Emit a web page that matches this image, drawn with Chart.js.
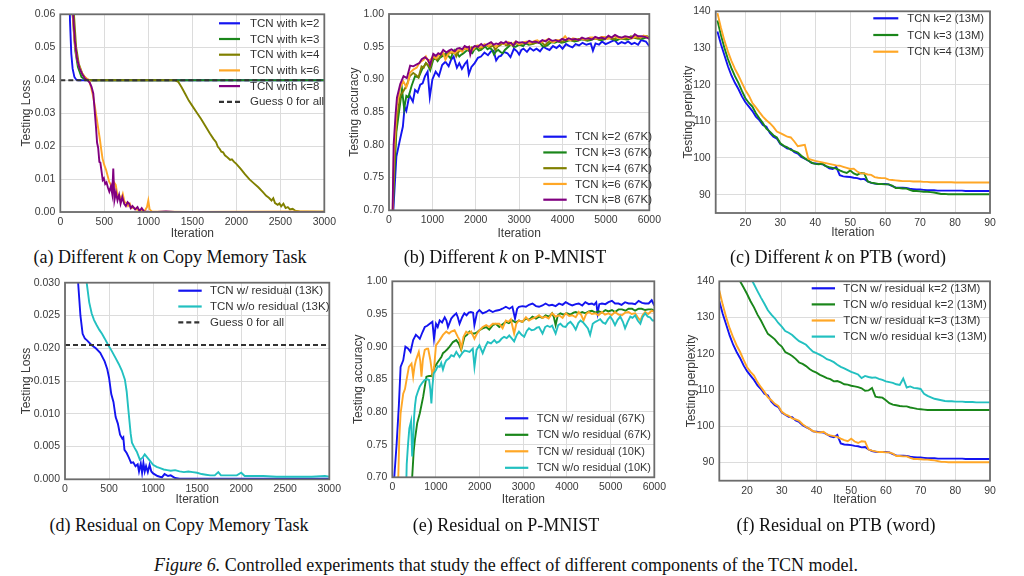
<!DOCTYPE html>
<html><head><meta charset="utf-8">
<script src="https://cdn.jsdelivr.net/npm/chart.js@4.4.1/dist/chart.umd.min.js"></script>
<style>
html,body{margin:0;padding:0;background:#fff;width:1024px;height:576px;overflow:hidden;position:relative;}
canvas{position:absolute;}
.cap{position:absolute;text-align:center;font-family:"Liberation Serif","Times New Roman",serif;font-size:18px;color:#111;white-space:nowrap;line-height:20px;}
</style></head><body>
<canvas id="ca" style="left:0px;top:0px" width="340" height="245"></canvas>
<canvas id="cb" style="left:340px;top:0px" width="325" height="245"></canvas>
<canvas id="cc" style="left:670px;top:0px" width="345" height="245"></canvas>
<canvas id="cd" style="left:0px;top:270px" width="345" height="245"></canvas>
<canvas id="ce" style="left:340px;top:270px" width="330" height="245"></canvas>
<canvas id="cf" style="left:670px;top:270px" width="345" height="245"></canvas>
<div class="cap" style="left:0px;width:340px;top:247px">(a) Different <i>k</i> on Copy Memory Task</div>
<div class="cap" style="left:355px;width:300px;top:247px">(b) Different <i>k</i> on P-MNIST</div>
<div class="cap" style="left:688px;width:300px;top:247px">(c) Different <i>k</i> on PTB (word)</div>
<div class="cap" style="left:9px;width:340px;top:515px">(d) Residual on Copy Memory Task</div>
<div class="cap" style="left:356px;width:300px;top:515px">(e) Residual on P-MNIST</div>
<div class="cap" style="left:686px;width:300px;top:515px">(f) Residual on PTB (word)</div>
<div class="cap" style="left:0px;width:1012px;top:555px"><i>Figure 6.</i> Controlled experiments that study the effect of different components of the TCN model.</div>
<script>
// ---------------- DATA ----------------
// (a) Copy memory, different k  [iteration, testing loss]
const aK2 = [[0,0.3],[90,0.09],[110,0.058],[125,0.048],[140,0.0435],[160,0.041],[180,0.0402],[200,0.04],[3000,0.04]];
const aK3 = [[0,0.3],[110,0.09],[140,0.06],[170,0.049],[200,0.044],[240,0.041],[280,0.0402],[320,0.04],[3000,0.04]];
const aK4 = [[0,0.3],[120,0.09],[150,0.062],[180,0.05],[210,0.045],[250,0.042],[300,0.0402],[350,0.04],[1300,0.04],[1340,0.0395],[1380,0.0378],[1420,0.0358],[1460,0.0338],[1500,0.0322],[1550,0.0302],[1600,0.0282],[1650,0.026],[1700,0.0238],[1740,0.0222],[1770,0.0212],[1790,0.0198],[1810,0.0192],[1830,0.0183],[1850,0.0181],[1870,0.0172],[1890,0.0168],[1910,0.0163],[1930,0.0158],[1950,0.016],[1975,0.0152],[2000,0.0146],[2050,0.0131],[2100,0.0114],[2150,0.0099],[2200,0.0087],[2250,0.0075],[2300,0.0061],[2340,0.0049],[2370,0.0043],[2400,0.0035],[2420,0.0042],[2440,0.0027],[2470,0.0022],[2490,0.0026],[2510,0.0017],[2535,0.0025],[2560,0.0012],[2585,0.0015],[2610,0.0008],[2640,0.001],[2670,0.0004],[2720,0.0002],[2800,0.0001],[3000,0.0001]];
const aK6 = [[0,0.3],[120,0.08],[140,0.06],[160,0.052],[185,0.047],[210,0.0445],[240,0.0425],[270,0.0412],[300,0.0405],[330,0.0398],[350,0.0378],[370,0.0355],[390,0.0325],[410,0.029],[430,0.0255],[450,0.022],[465,0.019],[480,0.0162],[500,0.0142],[520,0.0128],[540,0.0108],[555,0.0092],[570,0.0085],[590,0.007],[610,0.009],[630,0.0082],[650,0.005],[670,0.0052],[690,0.0038],[710,0.0055],[730,0.003],[750,0.0028],[770,0.0018],[790,0.0025],[810,0.0012],[830,0.0015],[860,0.0008],[890,0.0006],[920,0.0004],[960,0.0004],[985,0.0015],[1000,0.0035],[1015,0.0008],[1040,0.0002],[1100,0.0001],[1200,0.0001],[1500,0],[2000,0.0001],[2800,0.0002],[3000,0.0001]];
const aK8 = [[0,0.3],[125,0.08],[145,0.06],[165,0.052],[190,0.0465],[220,0.0435],[250,0.0418],[280,0.0405],[310,0.04],[335,0.0392],[355,0.038],[375,0.036],[390,0.031],[405,0.026],[418,0.021],[430,0.0195],[444,0.0152],[455,0.015],[468,0.0125],[482,0.0097],[495,0.0102],[510,0.0085],[525,0.009],[540,0.0075],[557,0.0062],[575,0.0078],[590,0.0055],[602,0.0132],[615,0.0036],[632,0.006],[650,0.0035],[668,0.0052],[685,0.0025],[705,0.0045],[726,0.0025],[745,0.0018],[765,0.003],[783,0.0025],[800,0.0012],[820,0.0018],[850,0.0008],[877,0.0015],[900,0.0003],[925,0.0012],[950,0.0002],[1000,0.0001],[1100,0],[1200,0.0002],[1300,0],[3000,0]];
const aGuess = [[0,0.04],[3000,0.04]];
const aXTicks = [0,500,1000,1500,2000,2500,3000];
const aYTicks = [0,0.01,0.02,0.03,0.04,0.05,0.06];

// (b) P-MNIST, different k  [iteration, testing accuracy]
const bK2 = [[60,0.62],[100,0.70],[170,0.782],[250,0.807],[320,0.828],[360,0.858],[400,0.852],[470,0.876],[550,0.866],[600,0.884],[660,0.88],[720,0.892],[775,0.894],[830,0.905],[890,0.912],[940,0.873],[1000,0.90],[1075,0.912],[1150,0.905],[1225,0.922],[1300,0.927],[1375,0.92],[1430,0.93],[1490,0.935],[1565,0.918],[1620,0.925],[1680,0.916],[1750,0.924],[1800,0.928],[1840,0.908],[1900,0.919],[1975,0.925],[2050,0.933],[2120,0.935],[2200,0.941],[2280,0.937],[2350,0.943],[2410,0.944],[2470,0.929],[2530,0.935],[2580,0.936],[2650,0.942],[2730,0.94],[2800,0.934],[2880,0.947],[2950,0.943],[3000,0.938],[3050,0.945],[3100,0.947],[3180,0.942],[3250,0.948],[3330,0.944],[3400,0.947],[3480,0.943],[3560,0.95],[3630,0.947],[3700,0.945],[3780,0.951],[3860,0.948],[3930,0.952],[4000,0.947],[4080,0.954],[4160,0.951],[4230,0.949],[4300,0.954],[4380,0.952],[4460,0.956],[4550,0.953],[4650,0.955],[4700,0.944],[4760,0.955],[4840,0.953],[4910,0.958],[4990,0.954],[5060,0.956],[5130,0.958],[5200,0.96],[5280,0.954],[5360,0.957],[5440,0.955],[5510,0.958],[5590,0.954],[5660,0.956],[5740,0.953],[5810,0.96],[5920,0.958],[6000,0.951]];
const bK3 = [[60,0.6],[100,0.72],[170,0.82],[250,0.86],[300,0.885],[350,0.855],[400,0.875],[450,0.873],[520,0.89],[600,0.905],[680,0.903],[760,0.915],[850,0.925],[900,0.921],[950,0.914],[1020,0.93],[1070,0.932],[1120,0.928],[1170,0.933],[1220,0.935],[1270,0.937],[1320,0.94],[1370,0.936],[1420,0.932],[1470,0.94],[1520,0.945],[1570,0.94],[1620,0.935],[1670,0.938],[1720,0.94],[1770,0.943],[1820,0.945],[1870,0.942],[1920,0.94],[1970,0.946],[2020,0.948],[2070,0.944],[2120,0.945],[2170,0.948],[2220,0.95],[2270,0.946],[2320,0.948],[2370,0.946],[2420,0.938],[2470,0.943],[2520,0.945],[2570,0.942],[2620,0.94],[2670,0.945],[2720,0.948],[2770,0.951],[2820,0.955],[2870,0.95],[2920,0.95],[2970,0.952],[3020,0.953],[3090,0.951],[3150,0.955],[3220,0.953],[3300,0.954],[3370,0.956],[3450,0.957],[3500,0.954],[3550,0.95],[3600,0.951],[3650,0.952],[3700,0.955],[3750,0.957],[3820,0.956],[3900,0.958],[3970,0.956],[4050,0.957],[4120,0.959],[4200,0.96],[4270,0.958],[4350,0.959],[4420,0.961],[4500,0.961],[4570,0.959],[4650,0.96],[4720,0.962],[4800,0.962],[4870,0.96],[4950,0.961],[5020,0.963],[5100,0.963],[5170,0.961],[5250,0.96],[5320,0.962],[5400,0.962],[5470,0.961],[5550,0.962],[5620,0.964],[5700,0.963],[5770,0.962],[5850,0.962],[5920,0.964],[6000,0.965]];
const bK4 = [[60,0.6],[110,0.76],[180,0.84],[260,0.875],[330,0.882],[400,0.89],[480,0.905],[560,0.91],[620,0.907],[680,0.903],[750,0.92],[800,0.918],[850,0.925],[900,0.922],[950,0.918],[1000,0.93],[1050,0.935],[1100,0.93],[1150,0.932],[1200,0.937],[1250,0.94],[1300,0.936],[1350,0.938],[1400,0.942],[1450,0.94],[1500,0.943],[1550,0.935],[1600,0.942],[1650,0.945],[1700,0.944],[1750,0.948],[1800,0.946],[1850,0.945],[1900,0.949],[1950,0.948],[2000,0.95],[2050,0.95],[2100,0.947],[2150,0.948],[2200,0.952],[2250,0.952],[2300,0.95],[2350,0.95],[2400,0.952],[2450,0.945],[2500,0.95],[2550,0.952],[2600,0.954],[2650,0.955],[2700,0.952],[2750,0.953],[2800,0.955],[2850,0.952],[2900,0.954],[2950,0.955],[3000,0.953],[3100,0.955],[3200,0.957],[3275,0.954],[3350,0.955],[3425,0.957],[3500,0.958],[3560,0.954],[3600,0.952],[3650,0.956],[3700,0.958],[3775,0.957],[3850,0.96],[3925,0.958],[4000,0.958],[4075,0.96],[4150,0.961],[4225,0.959],[4300,0.96],[4375,0.962],[4450,0.962],[4525,0.96],[4600,0.961],[4675,0.963],[4750,0.963],[4825,0.961],[4900,0.962],[4975,0.964],[5050,0.964],[5125,0.962],[5200,0.962],[5275,0.965],[5350,0.964],[5425,0.962],[5500,0.963],[5575,0.966],[5650,0.965],[5725,0.963],[5800,0.964],[5875,0.966],[5950,0.966],[6000,0.962]];
const bK6 = [[60,0.62],[110,0.78],[180,0.86],[260,0.888],[330,0.897],[400,0.888],[440,0.895],[480,0.91],[560,0.915],[640,0.918],[700,0.925],[750,0.928],[800,0.93],[850,0.935],[900,0.928],[950,0.93],[1020,0.935],[1080,0.932],[1130,0.936],[1190,0.94],[1250,0.94],[1300,0.93],[1360,0.938],[1440,0.942],[1520,0.94],[1580,0.944],[1630,0.945],[1690,0.942],[1740,0.948],[1800,0.946],[1850,0.95],[1900,0.944],[1950,0.946],[2000,0.951],[2050,0.952],[2100,0.949],[2150,0.95],[2200,0.954],[2250,0.953],[2300,0.951],[2360,0.955],[2420,0.953],[2470,0.95],[2530,0.954],[2580,0.956],[2640,0.954],[2700,0.955],[2760,0.957],[2820,0.953],[2880,0.956],[2930,0.958],[2990,0.954],[3050,0.955],[3110,0.957],[3180,0.958],[3240,0.955],[3300,0.957],[3360,0.959],[3420,0.96],[3480,0.957],[3550,0.958],[3620,0.96],[3680,0.962],[3740,0.958],[3800,0.957],[3860,0.96],[3930,0.96],[4000,0.962],[4060,0.966],[4120,0.961],[4180,0.96],[4240,0.963],[4300,0.962],[4370,0.96],[4430,0.963],[4500,0.961],[4560,0.962],[4630,0.964],[4700,0.964],[4760,0.962],[4830,0.963],[4900,0.965],[4960,0.965],[5030,0.962],[5090,0.963],[5160,0.965],[5220,0.966],[5290,0.963],[5350,0.962],[5420,0.964],[5480,0.965],[5550,0.963],[5610,0.963],[5680,0.965],[5740,0.966],[5800,0.964],[5870,0.967],[5940,0.965],[6000,0.963]];
const bK8 = [[60,0.6],[107,0.8],[150,0.845],[183,0.872],[259,0.893],[335,0.905],[411,0.902],[487,0.921],[560,0.92],[640,0.923],[700,0.925],[754,0.931],[830,0.934],[900,0.93],[944,0.922],[1020,0.939],[1080,0.936],[1135,0.94],[1190,0.938],[1249,0.945],[1325,0.941],[1380,0.944],[1440,0.946],[1516,0.943],[1570,0.947],[1630,0.948],[1690,0.946],[1744,0.951],[1800,0.949],[1843,0.95],[1874,0.938],[1920,0.948],[1973,0.951],[2050,0.95],[2125,0.954],[2180,0.951],[2239,0.953],[2300,0.955],[2353,0.957],[2410,0.953],[2468,0.955],[2525,0.954],[2582,0.957],[2640,0.955],[2696,0.958],[2750,0.955],[2810,0.956],[2870,0.952],[2925,0.958],[3000,0.956],[3077,0.957],[3150,0.955],[3230,0.959],[3300,0.957],[3382,0.958],[3450,0.956],[3534,0.96],[3610,0.958],[3686,0.962],[3760,0.959],[3838,0.96],[3910,0.958],[3991,0.962],[4070,0.96],[4143,0.963],[4220,0.961],[4295,0.962],[4370,0.96],[4448,0.964],[4520,0.962],[4600,0.963],[4680,0.961],[4752,0.965],[4830,0.963],[4905,0.964],[4980,0.962],[5057,0.967],[5130,0.964],[5209,0.968],[5290,0.965],[5362,0.964],[5440,0.966],[5514,0.965],[5590,0.963],[5666,0.969],[5740,0.966],[5819,0.966],[5900,0.965],[5971,0.963],[6000,0.962]];
const bXTicks = [0,1000,2000,3000,4000,5000,6000];
const bYTicks = [0.70,0.75,0.80,0.85,0.90,0.95,1.00];

// (c) PTB word, different k  (epoch -> testing perplexity)
const cEpochs = [12,13,14,15,16,17,18,19,20,
 21,22,23,24,25,26,27,28,29,30,
 31,32,33,34,35,36,37,38,39,40,
 41,42,43,44,45,46,47,48,49,50,
 51,52,53,54,55,56,57,58,59,60,
 61,62,63,64,65,66,67,68,69,70,
 71,72,73,74,75,76,77,78,79,80,
 81,82,83,84,85,86,87,88,89,90];
const cK2 = [134.5,131,128,125,122.5,120.5,118.8,116.8,115.2,
 114,112.8,111.3,110.3,109,108.5,106.8,105.8,105.3,103.8,
 103.2,102.6,102.5,101.6,101.2,100.3,99.8,99.3,98.6,98.5,
 98.4,98.3,97.8,97.2,97.0,97.6,95.3,95.0,94.9,94.8,
 94.6,94.5,94.2,94.3,93.6,93.2,93.0,92.9,92.9,92.9,
 92.8,92.3,92.0,91.9,91.9,91.8,91.6,91.5,91.4,91.4,
 91.3,91.2,91.2,91.2,91.1,91.1,91.1,91.1,91.1,91.1,
 91.1,91.1,91.0,91.0,91.0,91.0,91.0,91.0,91.0,91.0];
const cK3 = [137.5,133.5,130,127,124.5,122.3,120.5,118.3,116.3,
 115,114,112.2,110.8,109.5,108,107.2,106.2,105.6,104,
 103.3,102.9,102.2,101.9,101.5,100.6,99.9,99.3,98.7,98.4,
 98.3,98.5,97.8,97.5,97.3,97.1,96.6,96.2,95.9,96.6,
 95.8,95.4,95.9,95.8,93.6,93.3,93.1,92.9,92.9,92.8,
 92.8,92.5,91.8,91.8,91.7,91.7,91.3,91.0,91.0,90.9,
 90.8,90.8,90.7,90.6,90.4,90.2,90.2,90.1,90.1,90.1,
 90.1,90.1,90.1,90.1,90.1,90.1,90.1,90.1,90.1,90.1];
const cK4 = [139.5,135.5,132,129,126.5,124.3,122.5,120.5,118.5,
 117,115,113.8,112.5,111.3,110.3,109.5,108.5,107.2,106.8,
 106.3,105.8,105.6,104.5,103.2,103.4,103.6,99.8,99.5,99.2,
 99.0,98.8,98.6,98.4,98.2,98.0,97.9,97.6,97.3,97.0,
 97.1,96.3,95.8,95.8,95.5,95.4,94.8,94.6,94.5,94.5,
 94.1,94.0,93.9,93.8,93.7,93.7,93.7,93.6,93.6,93.6,
 93.5,93.5,93.4,93.4,93.4,93.4,93.4,93.4,93.4,93.3,
 93.3,93.3,93.3,93.3,93.3,93.3,93.3,93.3,93.3,93.3];
const cXTicks = [20,30,40,50,60,70,80,90];
const cYTicks = [90,100,110,120,130,140];

// (d) Copy memory, residual  [iteration, testing loss]
const dRes = [[100,0.05],[150,0.0298],[175,0.025],[200,0.0222],[225,0.0215],[250,0.0212],[300,0.0205],[350,0.02],[400,0.0193],[450,0.018],[480,0.0168],[500,0.0155],[525,0.013],[550,0.0118],[575,0.0095],[600,0.0085],[625,0.0068],[650,0.0062],[662,0.0064],[675,0.0045],[700,0.004],[725,0.0033],[750,0.0025],[775,0.0026],[800,0.002],[825,0.0023],[840,0.0012],[860,0.0024],[875,0.001],[890,0.0025],[905,0.0012],[920,0.002],[940,0.0011],[960,0.0022],[980,0.0012],[1000,0.0009],[1050,0.0005],[1100,0.0003],[1130,0.0008],[1170,0.0005],[1200,0.0006],[1250,0.0002],[1300,0.0001],[1500,0.0001],[2000,0.0001],[3000,0.0001]];
const dNoRes = [[200,0.05],[246,0.030],[275,0.027],[303,0.0253],[330,0.0243],[360,0.0235],[390,0.0228],[420,0.0222],[450,0.0215],[490,0.0205],[530,0.0196],[570,0.0186],[610,0.0176],[645,0.0166],[680,0.0152],[700,0.0134],[720,0.0105],[745,0.007],[760,0.0056],[790,0.0048],[815,0.0042],[850,0.003],[880,0.0033],[905,0.0038],[935,0.0033],[965,0.0028],[1000,0.0022],[1040,0.0019],[1080,0.0017],[1120,0.0015],[1160,0.0014],[1200,0.0013],[1250,0.0014],[1300,0.0012],[1350,0.0011],[1400,0.0012],[1450,0.0011],[1500,0.001],[1550,0.0008],[1600,0.0007],[1650,0.0006],[1700,0.0006],[1740,0.0011],[1770,0.0006],[1850,0.0006],[1950,0.0006],[2000,0.001],[2040,0.0005],[2150,0.0005],[2250,0.0005],[2400,0.0004],[2600,0.0004],[2800,0.0004],[2950,0.0005],[3000,0.0004]];
const dGuess = [[0,0.0205],[3000,0.0205]];
const dYTicks = [0,0.005,0.010,0.015,0.020,0.025,0.030];

// (e) P-MNIST, residual  [iteration, testing accuracy]
const eRes67 = [[20,0.6],[45,0.70],[100,0.752],[150,0.81],[190,0.869],[250,0.879],[300,0.9],[365,0.897],[417,0.892],[478,0.91],[540,0.918],[590,0.915],[630,0.912],[690,0.922],[744,0.93],[800,0.932],[857,0.935],[918,0.938],[955,0.912],[1000,0.935],[1040,0.93],[1085,0.94],[1140,0.937],[1200,0.945],[1240,0.94],[1275,0.93],[1350,0.943],[1400,0.947],[1465,0.951],[1500,0.945],[1540,0.935],[1600,0.945],[1650,0.951],[1700,0.948],[1750,0.952],[1800,0.953],[1850,0.952],[1880,0.933],[1940,0.952],[1995,0.956],[2070,0.951],[2150,0.953],[2220,0.956],[2300,0.953],[2370,0.955],[2450,0.956],[2520,0.958],[2600,0.961],[2680,0.958],[2750,0.961],[2810,0.943],[2860,0.958],[2900,0.961],[2980,0.962],[3060,0.961],[3130,0.964],[3210,0.966],[3290,0.962],[3360,0.961],[3440,0.963],[3510,0.966],[3590,0.963],[3660,0.964],[3740,0.962],[3820,0.966],[3900,0.964],[3970,0.968],[4050,0.965],[4120,0.963],[4200,0.965],[4270,0.966],[4350,0.963],[4420,0.968],[4500,0.965],[4570,0.966],[4620,0.964],[4670,0.968],[4700,0.951],[4740,0.965],[4800,0.966],[4880,0.965],[4950,0.968],[5030,0.970],[5100,0.966],[5180,0.966],[5250,0.964],[5330,0.968],[5410,0.966],[5490,0.966],[5560,0.965],[5640,0.970],[5720,0.967],[5790,0.966],[5870,0.966],[5940,0.971],[6000,0.963]];
const eNoRes67 = [[420,0.6],[455,0.70],[490,0.74],[516,0.757],[570,0.783],[630,0.798],[706,0.823],[781,0.854],[840,0.855],[895,0.855],[935,0.862],[971,0.869],[1047,0.877],[1123,0.884],[1160,0.89],[1200,0.892],[1260,0.896],[1313,0.9],[1389,0.907],[1465,0.91],[1520,0.905],[1578,0.895],[1654,0.915],[1710,0.918],[1768,0.923],[1830,0.92],[1881,0.92],[1940,0.922],[1995,0.925],[2070,0.928],[2150,0.93],[2220,0.926],[2300,0.933],[2370,0.935],[2450,0.93],[2520,0.934],[2600,0.938],[2670,0.936],[2750,0.94],[2820,0.937],[2900,0.94],[2980,0.938],[3060,0.943],[3130,0.941],[3210,0.946],[3290,0.943],[3360,0.946],[3440,0.944],[3510,0.948],[3590,0.946],[3660,0.951],[3700,0.945],[3740,0.933],[3790,0.948],[3850,0.951],[3920,0.949],[4000,0.951],[4080,0.949],[4150,0.952],[4200,0.953],[4280,0.951],[4350,0.953],[4420,0.951],[4500,0.954],[4570,0.955],[4650,0.952],[4730,0.954],[4800,0.952],[4880,0.956],[4950,0.954],[5030,0.956],[5100,0.953],[5180,0.957],[5260,0.957],[5340,0.955],[5410,0.958],[5490,0.958],[5560,0.955],[5640,0.958],[5710,0.958],[5790,0.956],[5860,0.957],[5940,0.957],[6000,0.955]];
const eRes10 = [[110,0.6],[137,0.70],[160,0.76],[190,0.798],[250,0.828],[290,0.835],[326,0.849],[380,0.869],[440,0.874],[478,0.854],[510,0.87],[540,0.879],[607,0.892],[640,0.878],[668,0.854],[700,0.88],[744,0.895],[790,0.897],[820,0.897],[870,0.88],[926,0.853],[960,0.87],[1000,0.902],[1085,0.91],[1160,0.918],[1236,0.923],[1300,0.92],[1350,0.923],[1426,0.925],[1500,0.915],[1540,0.91],[1578,0.897],[1630,0.915],[1692,0.923],[1750,0.92],[1806,0.923],[1881,0.912],[1940,0.92],[1995,0.925],[2070,0.93],[2150,0.933],[2220,0.93],[2300,0.935],[2370,0.935],[2450,0.935],[2526,0.928],[2600,0.94],[2660,0.938],[2715,0.942],[2790,0.92],[2840,0.935],[2900,0.94],[2980,0.938],[3060,0.945],[3130,0.94],[3210,0.943],[3290,0.945],[3360,0.948],[3440,0.944],[3510,0.946],[3580,0.943],[3660,0.951],[3740,0.946],[3820,0.948],[3900,0.944],[3970,0.951],[4050,0.947],[4120,0.948],[4200,0.945],[4270,0.953],[4330,0.948],[4380,0.94],[4440,0.95],[4500,0.953],[4570,0.95],[4650,0.951],[4720,0.948],[4800,0.953],[4870,0.949],[4950,0.951],[5020,0.948],[5100,0.953],[5180,0.949],[5260,0.948],[5330,0.952],[5410,0.953],[5480,0.95],[5560,0.951],[5620,0.945],[5680,0.94],[5730,0.948],[5790,0.953],[5860,0.95],[5940,0.955],[6000,0.953]];
const eNoRes10 = [[290,0.6],[330,0.72],[360,0.75],[390,0.775],[430,0.786],[455,0.732],[480,0.76],[500,0.793],[520,0.81],[545,0.823],[590,0.832],[630,0.839],[690,0.845],[744,0.849],[800,0.85],[842,0.849],[870,0.835],[895,0.813],[920,0.84],[948,0.859],[1000,0.864],[1040,0.87],[1085,0.869],[1120,0.875],[1160,0.865],[1200,0.874],[1236,0.879],[1300,0.882],[1350,0.887],[1410,0.885],[1465,0.892],[1540,0.884],[1600,0.89],[1654,0.894],[1710,0.893],[1768,0.892],[1843,0.897],[1881,0.869],[1930,0.895],[1995,0.902],[2070,0.89],[2130,0.9],[2185,0.907],[2260,0.905],[2336,0.91],[2390,0.906],[2450,0.908],[2500,0.912],[2560,0.915],[2620,0.913],[2678,0.917],[2730,0.913],[2790,0.908],[2850,0.918],[2900,0.923],[2960,0.918],[3020,0.915],[3080,0.924],[3130,0.928],[3190,0.925],[3250,0.926],[3310,0.929],[3360,0.93],[3440,0.92],[3500,0.93],[3550,0.932],[3610,0.93],[3660,0.932],[3740,0.92],[3800,0.933],[3850,0.935],[3910,0.931],[3970,0.93],[4020,0.935],[4080,0.938],[4140,0.933],[4200,0.926],[4260,0.936],[4310,0.94],[4370,0.937],[4420,0.933],[4480,0.928],[4530,0.918],[4590,0.935],[4650,0.938],[4710,0.94],[4760,0.942],[4820,0.937],[4880,0.935],[4940,0.942],[4990,0.946],[5050,0.94],[5100,0.933],[5160,0.941],[5220,0.946],[5280,0.938],[5330,0.928],[5390,0.938],[5450,0.946],[5500,0.944],[5560,0.948],[5620,0.94],[5680,0.935],[5730,0.945],[5790,0.951],[5850,0.946],[5900,0.945],[5960,0.94],[6000,0.94]];

// (f) PTB word, residual (epoch -> testing perplexity); w/ residual runs are cK2 / cK3
const fNoResK2 = [160,156,152,149,146,143,140,138.3,136.5,
 134.5,132.8,130.8,129.2,127.3,125.5,124.8,124,122.8,122,
 120.5,120,119.4,118.6,117.6,117.2,116.6,115.8,115.2,114.8,
 114.2,113.8,113.3,113,112.4,112.5,112.1,111.6,111.5,111.2,
 111.0,110.8,110.5,109.8,109.9,110.6,108.2,108.0,107.9,107.2,
 106.4,106.0,105.8,105.6,105.5,105.5,105.2,105.0,104.8,104.7,
 104.6,104.5,104.5,104.5,104.5,104.5,104.5,104.5,104.5,104.5,
 104.5,104.5,104.5,104.5,104.5,104.5,104.5,104.5,104.5,104.5];
const fNoResK3 = [165,161.5,158,155,152,149.5,147,145,143,
 141,139.2,137.3,135.5,133.8,132,130.8,129.8,128.5,127.5,
 126.3,125.8,125.2,124.3,123.5,123.0,122.5,121.5,120.6,120.2,
 119.7,119.2,118.5,118.2,117.7,117.0,116.4,116.0,115.5,115.0,
 114.7,114.3,113.3,113.9,113.6,113.4,113.5,113.1,112.8,112.4,
 112.2,112.0,111.6,111.4,113.2,110.7,111.0,110.6,110.5,110.3,
 109.0,108.4,108.0,107.6,107.4,107.2,107.0,106.9,106.9,106.8,
 106.8,106.8,106.7,106.7,106.7,106.6,106.6,106.6,106.6,106.6];

// ---------------- STYLE / HELPERS ----------------
const SANS = '"Liberation Sans", Arial, Helvetica, sans-serif';
const TXT = '#3a3a3a', GRID = '#dcdcdc', FRAME = '#6c6c6c';
const C = {blue:'#1414f0', green:'#1a861a', olive:'#808000', orange:'#ffa726', purple:'#800080', cyan:'#22c0c0', dash:'#333333'};
const pairs = arr => arr.map(p => ({x:p[0], y:p[1]}));
const zipXY = (xs, ys) => xs.map((x,i) => ({x:x, y:ys[i]}));

const framePlugin = {
  id:'frameLegend',
  afterDatasetsDraw(chart, args, o){
    const ctx = chart.ctx, a = chart.chartArea;
    ctx.save();
    ctx.strokeStyle = FRAME; ctx.lineWidth = 1.8;
    ctx.strokeRect(a.left, a.top, a.right-a.left, a.bottom-a.top);
    if (o && o.x !== undefined){
      ctx.font = o.size + 'px ' + SANS;
      ctx.textBaseline = 'middle'; ctx.textAlign = 'left';
      chart.data.datasets.forEach((ds,i) => {
        const y = o.y + i*o.dy;
        ctx.strokeStyle = ds.borderColor; ctx.lineWidth = 2.2;
        ctx.setLineDash(ds.borderDash && ds.borderDash.length ? ds.borderDash : []);
        ctx.beginPath(); ctx.moveTo(o.x, y); ctx.lineTo(o.x+o.len, y); ctx.stroke();
        ctx.setLineDash([]);
        ctx.fillStyle = '#333';
        ctx.fillText(ds.label, o.x+o.len+o.gap, y+0.5);
      });
    }
    ctx.restore();
  }
};
Chart.register(framePlugin);

function makeChart(id, s){
  const n = s.series.length;
  const datasets = s.series.map((d,i) => ({
    label:d.label, data:d.data, borderColor:d.color, backgroundColor:d.color,
    borderWidth:1.9, borderDash:d.dash || [], pointRadius:0, tension:0, fill:false, order:n-i
  }));
  const tickFont = {size:10.5, family:SANS};
  const titleFont = {size:12, family:SANS};
  return new Chart(document.getElementById(id), {
    type:'line',
    data:{datasets:datasets},
    options:{
      responsive:false, animation:false, devicePixelRatio:1, events:[],
      layout:{padding:{top:s.padTop, right:s.padRight, left:0, bottom:0}},
      plugins:{legend:{display:false}, tooltip:{enabled:false}, frameLegend:s.legend},
      scales:{
        x:{type:'linear', min:s.xMin, max:s.xMax,
          afterBuildTicks: sc => { sc.ticks = s.xTicks.map(v => ({value:v})); },
          afterFit: sc => { sc.height = s.xH; },
          grid:{color:GRID, lineWidth:1, drawTicks:false}, border:{display:false},
          ticks:{autoSkip:false, maxRotation:0, padding:4, color:TXT, font:tickFont, callback: v => Number(v).toFixed(0)},
          title:{display:true, text:'Iteration', color:TXT, font:titleFont, padding:{top:0, bottom:s.xTitlePad}}},
        y:{type:'linear', min:s.yMin, max:s.yMax,
          afterBuildTicks: sc => { sc.ticks = s.yTicks.map(v => ({value:v})); },
          afterFit: sc => { sc.width = s.yW; },
          grid:{color:GRID, lineWidth:1, drawTicks:false}, border:{display:false},
          ticks:{autoSkip:false, padding:5, color:TXT, font:tickFont, callback: v => Number(v).toFixed(s.yDec)},
          title:{display:true, text:s.yTitle, color:TXT, font:titleFont, padding:{top:s.yTitlePad, bottom:0}}}
      }
    }
  });
}

// ---------------- CHARTS ----------------
makeChart('ca', {
  series:[
    {label:'TCN with k=2', data:pairs(aK2), color:C.blue},
    {label:'TCN with k=3', data:pairs(aK3), color:C.green},
    {label:'TCN with k=4', data:pairs(aK4), color:C.olive},
    {label:'TCN with k=6', data:pairs(aK6), color:C.orange},
    {label:'TCN with k=8', data:pairs(aK8), color:C.purple},
    {label:'Guess 0 for all', data:pairs(aGuess), color:C.dash, dash:[5,3]}],
  xMin:0, xMax:3000, yMin:0, yMax:0.06, xTicks:aXTicks, yTicks:aYTicks, yDec:2,
  yTitle:'Testing Loss', padTop:14.3, padRight:14, xH:33, yW:60.3, xTitlePad:4.5, yTitlePad:19.8,
  legend:{x:219, y:23.3, dy:15.7, len:21, gap:10, size:11.5}
});
makeChart('cb', {
  series:[
    {label:'TCN k=2 (67K)', data:pairs(bK2), color:C.blue},
    {label:'TCN k=3 (67K)', data:pairs(bK3), color:C.green},
    {label:'TCN k=4 (67K)', data:pairs(bK4), color:C.olive},
    {label:'TCN k=6 (67K)', data:pairs(bK6), color:C.orange},
    {label:'TCN k=8 (67K)', data:pairs(bK8), color:C.purple}],
  xMin:0, xMax:6000, yMin:0.70, yMax:1.00, xTicks:bXTicks, yTicks:bYTicks, yDec:2,
  yTitle:'Testing accuracy', padTop:14, padRight:12, xH:34.7, yW:49, xTitlePad:4.5, yTitlePad:7.8,
  legend:{x:203.3, y:136.7, dy:15.75, len:23.4, gap:8.3, size:11.5}
});
makeChart('cc', {
  series:[
    {label:'TCN k=2 (13M)', data:zipXY(cEpochs, cK2), color:C.blue},
    {label:'TCN k=3 (13M)', data:zipXY(cEpochs, cK3), color:C.green},
    {label:'TCN k=4 (13M)', data:zipXY(cEpochs, cK4), color:C.orange}],
  xMin:11.5, xMax:90, yMin:85, yMax:140, xTicks:cXTicks, yTicks:cYTicks, yDec:0,
  yTitle:'Testing perplexity', padTop:9.3, padRight:25, xH:32, yW:45.7, xTitlePad:5.1, yTitlePad:11.1,
  legend:{x:203.3, y:18.3, dy:16.7, len:25, gap:9, size:11.2}
});
makeChart('cd', {
  series:[
    {label:'TCN w/ residual (13K)', data:pairs(dRes), color:C.blue},
    {label:'TCN w/o residual (13K)', data:pairs(dNoRes), color:C.cyan},
    {label:'Guess 0 for all', data:pairs(dGuess), color:C.dash, dash:[5,3]}],
  xMin:0, xMax:3000, yMin:0, yMax:0.03, xTicks:aXTicks, yTicks:dYTicks, yDec:3,
  yTitle:'Testing Loss', padTop:12.7, padRight:15.7, xH:35.7, yW:65, xTitlePad:7.8, yTitlePad:19.5,
  legend:{x:178.3, y:20.7, dy:15.8, len:23.4, gap:8.3, size:11.5}
});
makeChart('ce', {
  series:[
    {label:'TCN w/ residual (67K)', data:pairs(eRes67), color:C.blue},
    {label:'TCN w/o residual (67K)', data:pairs(eNoRes67), color:C.green},
    {label:'TCN w/ residual (10K)', data:pairs(eRes10), color:C.orange},
    {label:'TCN w/o residual (10K)', data:pairs(eNoRes10), color:C.cyan}],
  xMin:0, xMax:6000, yMin:0.70, yMax:1.00, xTicks:bXTicks, yTicks:bYTicks, yDec:2,
  yTitle:'Testing accuracy', padTop:11, padRight:14, xH:37.7, yW:52.3, xTitlePad:7.8, yTitlePad:11.1,
  legend:{x:165, y:148.3, dy:16.5, len:23.3, gap:8.4, size:11}
});
makeChart('cf', {
  series:[
    {label:'TCN w/ residual k=2 (13M)', data:zipXY(cEpochs, cK2), color:C.blue},
    {label:'TCN w/o residual k=2 (13M)', data:zipXY(cEpochs, fNoResK2), color:C.green},
    {label:'TCN w/ residual k=3 (13M)', data:zipXY(cEpochs, cK3), color:C.orange},
    {label:'TCN w/o residual k=3 (13M)', data:zipXY(cEpochs, fNoResK3), color:C.cyan}],
  xMin:12, xMax:90, yMin:85, yMax:140, xTicks:cXTicks, yTicks:cYTicks, yDec:0,
  yTitle:'Testing perplexity', padTop:8.3, padRight:25, xH:34.3, yW:49.3, xTitlePad:8.5, yTitlePad:14.5,
  legend:{x:141.7, y:18.3, dy:16.1, len:23.3, gap:8.3, size:11.5}
});
</script>
</body></html>
